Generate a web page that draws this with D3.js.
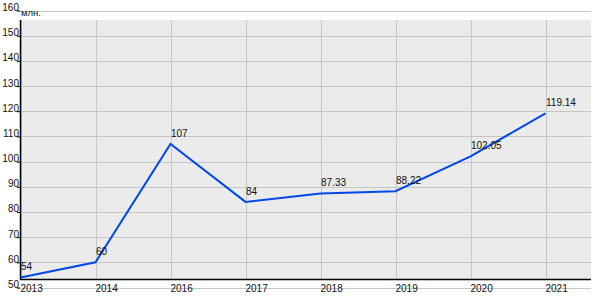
<!DOCTYPE html>
<html>
<head>
<meta charset="utf-8">
<script src="https://cdn.jsdelivr.net/npm/d3@7"></script>
<style>
  body { margin: 0; background: #fff; }
  svg { display: block; font-family: Arial, "Liberation Sans", sans-serif; }
</style>
</head>
<body>
<svg width="600" height="300"></svg>
<script>
// data
const years = ["2013", "2014", "2016", "2017", "2018", "2019", "2020", "2021"]
const values = [54, 60, 107, 84, 87.33, 88.22, 102.05, 119.14]
const valueLabels = ["54", "60", "107", "84", "87.33", "88.22", "102.05", "119.14"]
const yTicks = [50, 60, 70, 80, 90, 100, 110, 120, 130, 140, 150, 160]
const unitLabel = "млн."

const svg = d3.select("svg")

const plotLeft = 20, plotRight = 591, plotTop = 20, plotBottom = 280

const x = d3.scalePoint()
	.domain(years)
	.range([20.5, 545.5])

const y = d3.scaleLinear()
	.domain([50, 160])
	.range([287.5, 10.5])

// plot background
svg.append("rect")
	.attr("x", plotLeft)
	.attr("y", plotTop)
	.attr("width", plotRight - plotLeft)
	.attr("height", plotBottom - plotTop)
	.attr("fill", "#ebebeb")

// horizontal grid
svg.append("g")
	.selectAll("line")
	.data(yTicks)
	.join("line")
	.attr("x1", 17)
	.attr("x2", plotRight)
	.attr("y1", d => Math.round(y(d)) + 0.5)
	.attr("y2", d => Math.round(y(d)) + 0.5)
	.attr("stroke", "#c6c6c6")
	.attr("stroke-width", 1)

// vertical grid
svg.append("g")
	.selectAll("line")
	.data(years)
	.join("line")
	.attr("x1", d => Math.round(x(d)) + 0.5)
	.attr("x2", d => Math.round(x(d)) + 0.5)
	.attr("y1", plotTop)
	.attr("y2", plotBottom)
	.attr("stroke", "#c6c6c6")
	.attr("stroke-width", 1)

// y axis
const yAxis = svg.append("g")
	.attr("transform", "translate(" + plotLeft + ",0)")
	.call(d3.axisLeft(y).tickValues(yTicks).tickSize(3).tickFormat(d3.format("d")))
yAxis.select(".domain").remove()
yAxis.selectAll(".tick line").attr("stroke", "#000")
yAxis.selectAll(".tick text")
	.attr("x", -1)
	.attr("dy", 0)
	.attr("font-size", 10)
	.attr("fill", "#111")
	.style("font-family", "Arial, 'Liberation Sans', sans-serif")

svg.append("text")
	.attr("x", 21)
	.attr("y", 15.5)
	.attr("font-size", 9.5)
	.attr("fill", "#111")
	.text(unitLabel)

// x axis labels
const xAxis = svg.append("g")
	.attr("transform", "translate(0," + plotBottom + ")")
	.call(d3.axisBottom(x).tickSize(0))
xAxis.select(".domain").remove()
xAxis.selectAll(".tick text")
	.attr("text-anchor", "start")
	.attr("x", -0.5)
	.attr("y", 12)
	.attr("dy", 0)
	.attr("font-size", 10)
	.attr("fill", "#111")
	.style("font-family", "Arial, 'Liberation Sans', sans-serif")

// axis lines
svg.append("line")
	.attr("x1", plotLeft + 0.5).attr("x2", plotLeft + 0.5)
	.attr("y1", plotTop).attr("y2", plotBottom)
	.attr("stroke", "#000").attr("stroke-width", 1.5)
svg.append("line")
	.attr("x1", plotLeft).attr("x2", plotRight)
	.attr("y1", plotBottom - 0.5).attr("y2", plotBottom - 0.5)
	.attr("stroke", "#000").attr("stroke-width", 1.5)

// line
const line = d3.line()
	.x((d, i) => x(years[i]))
	.y(d => y(d))

svg.append("path")
	.datum(values)
	.attr("d", line)
	.attr("fill", "none")
	.attr("stroke", "#0048e8")
	.attr("stroke-width", 2)

// value labels
svg.append("g")
	.selectAll("text")
	.data(values)
	.join("text")
	.attr("x", (d, i) => x(years[i]) + 0.5)
	.attr("y", d => y(d) - 7)
	.attr("font-size", 10)
	.attr("fill", "#111")
	.text((d, i) => valueLabels[i])
</script>
</body>
</html>
